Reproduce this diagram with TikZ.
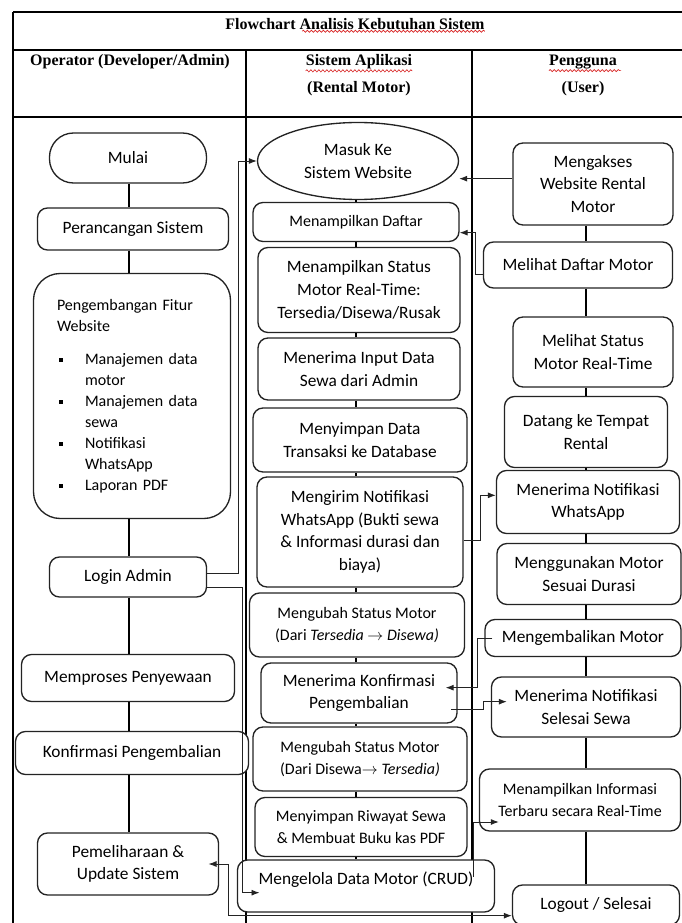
\documentclass[tikz,border=0pt]{standalone}
\usepackage{fontspec}
\setmainfont{Carlito}
\newfontfamily\hdrfont{Liberation Serif}
\usepackage{tikz}
\usetikzlibrary{shapes,arrows.meta,positioning,calc,decorations.pathmorphing}
\definecolor{framegray}{RGB}{35,35,35}
\definecolor{wavered}{RGB}{215,35,35}

\newcommand{\bsq}{\makebox[21pt][l]{\hspace{1.5pt}\rule[1.8pt]{3.2pt}{3.2pt}}}

\begin{document}
\begin{tikzpicture}[x=0.75pt,y=-0.75pt,
    box/.style={draw=framegray, line width=1pt, rounded corners=7.5pt, fill=white,
        align=center, font=\fontsize{13}{17}\selectfont, inner sep=1pt},
    flow/.style={line width=2pt},
    link/.style={draw=framegray, line width=0.7pt, -{Latex[length=6pt,width=4.5pt]}},
    hdr/.style={font=\hdrfont\bfseries\fontsize{12}{14}\selectfont, inner sep=0pt},
    squig/.style={draw=wavered, line width=0.5pt, decorate, decoration={snake, amplitude=0.8pt, segment length=3pt}},
]
    \useasboundingbox (0,0) rectangle (681,923);
    % table frame
    \draw[line width=0.8pt] (13,12) -- (700,12) (13,12) -- (13,930);
    \draw[line width=0.8pt] (13,50) -- (700,50) (13,117) -- (700,117);
    \draw[line width=0.8pt] (246,50) -- (246,930) (472,50) -- (472,930);
    % headers
    \node[hdr] (judul) at (355,24) {Flowchart Analisis Kebutuhan Sistem};
    \node[hdr] (kolA) at (130,62) {Operator (Developer/Admin)};
    \node[hdr] (kolB1) at (359,62) {Sistem Aplikasi};
    \node[hdr] (kolB2) at (359,89) {(Rental Motor)};
    \node[hdr] (kolC1) at (583,62) {Pengguna};
    \node[hdr] (kolC2) at (583,89) {(User)};
    % spelling marks
    \draw[squig] ([xshift=-137pt,yshift=-1pt]judul.south east) -- ([yshift=-1pt]judul.south east);
    \draw[squig] ([yshift=-1pt]kolB1.south west) -- ([yshift=-1pt]kolB1.south east);
    \draw[squig] ([yshift=-1pt]kolC1.south west) -- ([xshift=3pt,yshift=-1pt]kolC1.south east);

    % operator
    \node[box, rounded corners=18pt, minimum width=117.75pt, minimum height=37.5pt] (mulai) at (128,158) {Mulai};
    \node[box, minimum width=143.25pt, minimum height=31.5pt] (rancang) at (133,229) {Perancangan Sistem};
    \node[box, rounded corners=20pt, minimum width=147.75pt, minimum height=183.75pt,
        text width=112.5pt, align=left, font=\fontsize{12}{15.75}\selectfont] (kembang) at (132,396)
        {Pengembangan Fitur\\Website\\[9pt]
         \bsq Manajemen data\\\hspace*{21pt}motor\\
         \bsq Manajemen data\\\hspace*{21pt}sewa\\
         \bsq Notifikasi\\\hspace*{21pt}WhatsApp\\
         \bsq Laporan PDF};
    \node[box, minimum width=117.75pt, minimum height=30pt] (login) at (128,577) {Login Admin};
    \node[box, minimum width=159.75pt, minimum height=35.25pt] (proses) at (128,678) {Memproses Penyewaan};
    \node[box, minimum width=174.75pt, minimum height=32.25pt] (konfirm) at (132,753) {Konfirmasi Pengembalian};
    \node[box, minimum width=135.75pt, minimum height=46.5pt] (pelihara) at (128,864) {Pemeliharaan \&\\Update Sistem};

    % sistem aplikasi
    \node[box, ellipse, minimum width=150.75pt, minimum height=57.75pt] (masuk) at (358,161) {Masuk Ke\\Sistem Website};
    \node[box, minimum width=154.5pt, minimum height=29.25pt, font=\fontsize{12}{16}\selectfont] (tampil) at (356,222) {Menampilkan Daftar};
    \node[box, minimum width=151.5pt, minimum height=63.75pt] (status) at (359,290) {Menampilkan Status\\Motor Real-Time:\\Tersedia/Disewa/Rusak};
    \node[box, minimum width=151.5pt, minimum height=46.5pt] (input) at (359,369) {Menerima Input Data\\Sewa dari Admin};
    \node[box, minimum width=160.5pt, minimum height=48pt] (simpan) at (360,440) {Menyimpan Data\\Transaksi ke Database};
    \node[box, minimum width=154.5pt, minimum height=82.5pt] (kirim) at (360,532) {Mengirim Notifikasi\\WhatsApp (Bukti sewa\\\& Informasi durasi dan\\biaya)};
    \node[box, minimum width=161.25pt, minimum height=48pt, font=\fontsize{12}{17}\selectfont] (ubah1) at (357,625) {Mengubah Status Motor\\(Dari \textit{Tersedia} $\rightarrow$ \textit{Disewa)}};
    \node[box, minimum width=147pt, minimum height=45pt] (terima) at (359,693) {Menerima Konfirmasi\\Pengembalian};
    \node[box, minimum width=160.5pt, minimum height=48pt, font=\fontsize{12}{17}\selectfont] (ubah2) at (360,759) {Mengubah Status Motor\\(Dari Disewa$\rightarrow$ \textit{Tersedia)}};
    \node[box, minimum width=159pt, minimum height=44.25pt, font=\fontsize{12}{17}\selectfont] (riwayat) at (361,827) {Menyimpan Riwayat Sewa\\\& Membuat Buku kas PDF};
    \node[box, minimum width=192.75pt, minimum height=39pt, text height=9pt, text depth=11pt] (kelola) at (366,886) {Mengelola Data Motor (CRUD)};

    % pengguna
    \node[box, minimum width=120pt, minimum height=61.5pt] (akses) at (593,184) {Mengakses\\Website Rental\\Motor};
    \node[box, minimum width=141.75pt, minimum height=34.5pt] (daftar) at (578,265) {Melihat Daftar Motor};
    \node[box, minimum width=120pt, minimum height=52.5pt] (lihat) at (593,352) {Melihat Status\\Motor Real-Time};
    \node[box, minimum width=122.25pt, minimum height=53.25pt] (datang) at (586,432) {Datang ke Tempat\\Rental};
    \node[box, minimum width=137.25pt, minimum height=47.25pt] (notifwa) at (588,502) {Menerima Notifikasi\\WhatsApp};
    \node[box, minimum width=138pt, minimum height=45.75pt] (guna) at (589,574) {Menggunakan Motor\\Sesuai Durasi};
    \node[box, minimum width=147pt, minimum height=27.75pt] (balik) at (583,638) {Mengembalikan Motor};
    \node[box, minimum width=141.75pt, minimum height=45pt] (selesai) at (586,707) {Menerima Notifikasi\\Selesai Sewa};
    \node[box, minimum width=150.75pt, minimum height=46.5pt, font=\fontsize{12}{17}\selectfont] (info) at (580,800) {Menampilkan Informasi\\Terbaru secara Real-Time};
    \node[box, minimum width=125.25pt, minimum height=30pt] (logout) at (596,905) {Logout / Selesai};

    % main lines
    \coordinate (colL) at (129,0);
    \coordinate (colM) at (356,0);
    \coordinate (colR) at (586,0);
    \foreach \a/\b in {mulai/rancang, rancang/kembang, kembang/login, login/proses, proses/konfirm, konfirm/pelihara}
        \draw[flow] (\a.south -| colL) -- (\b.north -| colL);
    \foreach \a/\b in {masuk/tampil, tampil/status, status/input, input/simpan, simpan/kirim, kirim/ubah1, ubah1/terima, terima/ubah2, ubah2/riwayat, riwayat/kelola}
        \draw[flow] (\a.south -| colM) -- (\b.north -| colM);
    \foreach \a/\b in {akses/daftar, daftar/lihat, lihat/datang, datang/notifwa, notifwa/guna, guna/balik, balik/selesai, selesai/info, info/logout}
        \draw[flow] (\a.south -| colR) -- (\b.north -| colR);

    % cross links
    \draw[link] ([yshift=3pt]login.east) -- ++(31,0) |- (masuk.west);
    \draw[link] ([yshift=-8pt]login.east) -- ++(35,0) |- ([xshift=17pt,yshift=-5pt]kelola.west);
    \draw[link] ([yshift=4pt]akses.west) -- ([yshift=4pt]akses.west -| masuk.east);
    \draw[link] ([yshift=-7pt]daftar.west) -- ++(-7,0) |- ([yshift=-8pt]tampil.east);
    \draw[link] ([yshift=-6pt]kirim.east) -- ++(17,0) |- ([yshift=5pt]notifwa.west);
    \draw[link] ([xshift=6pt]balik.west) -- ++(-15,0) |- ([xshift=-9pt,yshift=4pt]terima.east);
    \draw[link] ([xshift=-5pt,yshift=-12pt]terima.east) -- ++(32,0) |- ([xshift=12pt,yshift=4pt]selesai.west);
    \draw[link] ([xshift=-16pt,yshift=7pt]kelola.east) |- ([xshift=15pt,yshift=-16.5pt]info.west);
    \draw[link, {Latex[length=6pt,width=4.5pt]}-{Latex[length=6pt,width=4.5pt]}] ([xshift=-8pt]pelihara.east) -- ++(20,0) |- ([yshift=-8pt]logout.west);
\end{tikzpicture}
\end{document}
